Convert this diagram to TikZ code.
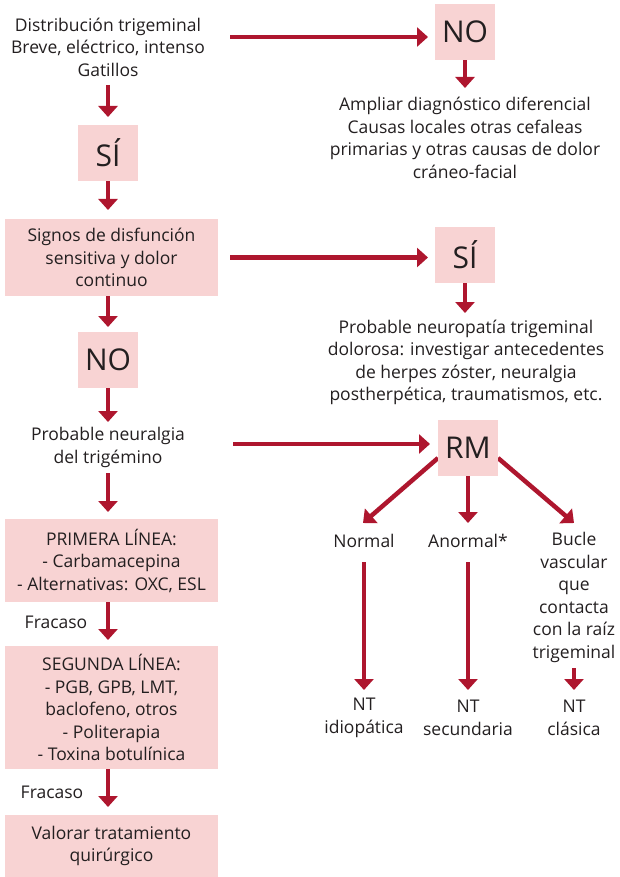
\documentclass[tikz,border=0pt]{standalone}
\usepackage{fontspec}
\setmainfont{Open Sans}
\usetikzlibrary{arrows.meta}
\definecolor{boxpink}{RGB}{248,211,211}
\definecolor{arrred}{RGB}{174,22,46}
\definecolor{txtgray}{RGB}{35,31,32}
\pgfdeclarelayer{bg}
\pgfsetlayers{bg,main}
\begin{document}
\begin{tikzpicture}[x=1pt,y=-1pt,
 every node/.style={inner sep=0pt, outer sep=0pt, text=txtgray},
 lbl/.style={align=center, font=\fontsize{17.5}{22.5}\selectfont},
 pbox/.style={fill=boxpink, align=center, font=\fontsize{17.5}{22.5}\selectfont},
 yn/.style={fill=boxpink, minimum width=60pt, minimum height=56pt, font=\fontsize{30}{30}\selectfont},
 arr/.style={draw=arrred, line width=4.5pt, -{Triangle[width=19pt,length=11pt]}}]
\useasboundingbox (0,0) rectangle (620,877);
\coordinate (lc) at (108,0);
% left column
\node[lbl, minimum width=244pt, minimum height=76pt] (top) at (108,47) {Distribución trigeminal\\Breve, eléctrico, intenso\\Gatillos};
\node[yn] (si1) at (108,153) {SÍ};
\node[pbox, minimum width=213pt, minimum height=77pt] (sig) at (111.5,257.5) {Signos de disfunción\\sensitiva y dolor\\continuo};
\node[yn] (no2) at (108,360) {NO};
\node[lbl, minimum width=250pt, minimum height=51pt] (neu2) at (108,447.5) {Probable neuralgia\\del trigémino};
\node[pbox, minimum width=213pt, minimum height=83pt] (prim) at (111.5,560.5) {PRIMERA LÍNEA:\\- Carbamacepina\\- Alternativas: OXC, ESL};
\node[lbl] (fr1) at (56,622) {Fracaso};
\node[pbox, minimum width=213pt, minimum height=123pt] (seg) at (111.5,707.5) {SEGUNDA LÍNEA:\\- PGB, GPB, LMT,\\baclofeno, otros\\- Politerapia\\- Toxina botulínica};
\node[lbl] (fr2) at (52,792) {Fracaso};
\node[pbox, minimum width=213pt, minimum height=62pt] (val) at (111.5,846) {Valorar tratamiento\\quirúrgico};
% right column
\node[yn] (no1) at (465,32) {NO};
\node[lbl, minimum height=100pt] (ampl) at (465,138) {Ampliar diagnóstico diferencial\\Causas locales otras cefaleas\\primarias y otras causas de dolor\\cráneo-facial};
\node[yn] (si2) at (465,255) {SÍ};
\node[lbl, minimum height=99pt] (neu) at (466,362.5) {Probable neuropatía trigeminal\\dolorosa: investigar antecedentes\\de herpes zóster, neuralgia\\postherpética, traumatismos, etc.};
\node[yn] (rm) at (468,448) {RM};
\node[lbl, minimum height=36pt] (normal) at (364,541) {Normal};
\node[lbl, minimum height=36pt] (anorm) at (468,541) {Anormal*};
\node[lbl, minimum height=149pt] (bucle) at (574,597.5) {Bucle\\vascular\\que\\contacta\\con la raíz\\trigeminal};
\node[lbl, minimum height=56pt] (ntid) at (364,718) {NT\\idiopática};
\node[lbl, minimum height=56pt] (ntsec) at (468,718) {NT\\secundaria};
\node[lbl, minimum height=56pt] (ntcl) at (574,718) {NT\\clásica};
\begin{pgfonlayer}{bg}
\draw[arr, shorten >=7pt] ([yshift=10pt]top.east) -- ([yshift=10pt]top.east -| no1.west);
\draw[arr] (no1.south) -- (ampl.north);
\draw[arr, shorten >=8pt] (top.south) -- (si1.north);
\draw[arr, shorten >=9pt] (si1.south) -- (sig.north -| si1);
\draw[arr, shorten <=12pt, shorten >=7pt] (sig.east) -- (sig.east -| si2.west);
\draw[arr] (si2.south) -- (si2.south |- neu.north);
\draw[arr, shorten >=5pt] (sig.south -| no2) -- (no2.north);
\draw[arr] (no2.south) -- (neu2.north);
\draw[arr, shorten >=7pt] (neu2.south) -- (prim.north -| neu2);
\draw[arr, shorten >=8pt] ([yshift=3.5pt]neu2.east) -- ([yshift=3.5pt]neu2.east -| rm.west);
\draw[arr, shorten >=6pt] (prim.south -| lc) -- (seg.north -| lc);
\draw[arr, shorten >=8pt] (seg.south -| lc) -- (val.north -| lc);
\draw[arr] ([yshift=-10pt]rm.west) -- ([xshift=-1pt]normal.north);
\draw[arr] (rm.south) -- (anorm.north);
\draw[arr] ([yshift=-10pt]rm.east) -- (bucle.north);
\draw[arr, shorten <=3pt] (normal.south) -- (ntid.north);
\draw[arr, shorten <=3pt] (anorm.south) -- (ntsec.north);
\draw[arr, shorten <=-4pt] (bucle.south) -- (ntcl.north);
\end{pgfonlayer}
\end{tikzpicture}
\end{document}
